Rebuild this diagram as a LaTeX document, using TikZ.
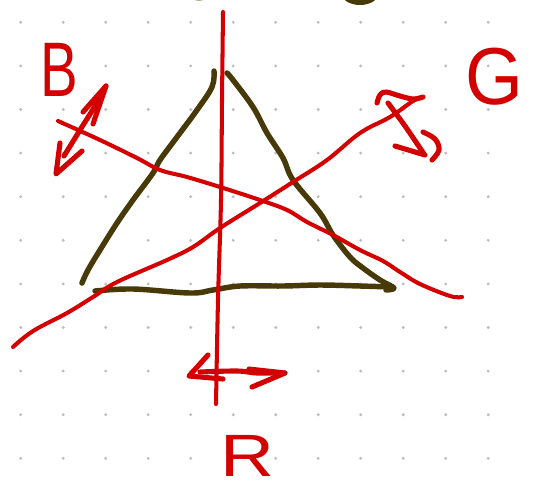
\documentclass[tikz,border=0pt]{standalone}
\usepackage{fontspec}
\setmainfont{Liberation Sans}
\definecolor{pen}{RGB}{212,0,0}
\definecolor{trioline}{RGB}{72,58,8}
\definecolor{dotgray}{RGB}{188,188,188}
\begin{document}
\begin{tikzpicture}[x=0.02cm,y=-0.02cm,
  redline/.style={draw=pen,line width=2.3pt,line cap=round,line join=round},
  redpen/.style={draw=pen,line width=2.9pt,line cap=round,line join=round},
  triline/.style={draw=trioline,line width=3.1pt,line cap=round,line join=round},
  letter/.style={text=pen,inner sep=0pt,anchor=center}]
\useasboundingbox (0,0) rectangle (536,487);
\fill[white] (0,0) rectangle (536,487);
% dotted grid
\foreach \i in {0,...,11}{
  \foreach \j in {0,...,10}{
    \fill[dotgray] ({20.7+42.5*\i},{22.3+43.6*\j}) circle[radius=0.9pt];
  }
}
% cut-off strokes at the top edge
\begin{scope}
  \clip (0,0) rectangle (536,487);
  \fill[trioline] (199,-5) ellipse[x radius=0.22cm, y radius=0.11cm];
  \fill[trioline] (360,-6) ellipse[x radius=0.36cm, y radius=0.22cm];
\end{scope}
% triangle
\draw[triline] plot[smooth,tension=0.6] coordinates {(214,71) (212,87) (197,110) (177,137) (160,160) (153,173) (133,200) (117,223) (100,250) (88,270) (82,283)};
\draw[triline] plot[smooth,tension=0.6] coordinates {(227,73) (233,80) (253,107) (267,133) (283,158) (293,180) (320,213) (333,235) (350,257) (363,268) (380,280) (394,288) (386,290)};
\draw[triline] plot[smooth,tension=0.6] coordinates {(95,291) (133,289) (190,293) (213,290) (240,286) (283,286) (320,285) (360,286) (392,287)};
% R axis (vertical)
\draw[redline] plot[smooth,tension=0.6] coordinates {(223,12) (222,100) (221,200) (218,300) (216,404)};
% B axis
\draw[redline] plot[smooth,tension=0.6] coordinates {(58,121) (100,140) (137,158) (160,170) (187,177) (220,187) (260,200) (287,210) (307,222) (333,235) (360,250) (383,261) (400,272) (420,284) (450,296) (462,297)};
% G axis
\draw[redline] plot[smooth,tension=0.6] coordinates {(13,347) (33,331) (67,313) (93,297) (117,282) (167,260) (193,247) (220,228) (260,203) (293,182) (327,160) (360,133) (390,117) (413,101) (423,97)};
% B double arrow
\draw[redpen] plot[smooth,tension=0.6] coordinates {(64,156) (80,130) (95,106) (106,86)};
\draw[redpen] (83,112) -- (106,86) -- (93,124);
\draw[redpen] (60,143) -- (56,174) -- (82,151);
% G double arrow
\draw[redpen] plot[smooth,tension=0.6] coordinates {(377,103) (380,95) (386,92) (400,96) (413,99) (423,97)};
\draw[redpen] plot[smooth,tension=0.6] coordinates {(388,103) (405,126) (424,154)};
\draw[redpen] (395,146) -- (425,155);
\draw[redpen] plot[smooth,tension=0.6] coordinates {(423,132) (435,139) (439,150) (432,160)};
% R double arrow
\draw[redpen] (208,355) -- (189,376) -- (223,379);
\draw[redpen] plot[smooth,tension=0.6] coordinates {(200,372) (237,371) (257,373) (285,373)};
\draw[redpen] (249,369) -- (285,373) -- (252,387);
% labels
\node[letter,xscale=0.73] (labB) at (59,70) {\fontsize{44}{44}\selectfont B};
\node[letter,xscale=0.92] (labG) at (494,77) {\fontsize{46}{46}\selectfont G};
\node[letter,xscale=1.25] (labR) at (247,456) {\fontsize{34}{34}\selectfont R};
\end{tikzpicture}
\end{document}
